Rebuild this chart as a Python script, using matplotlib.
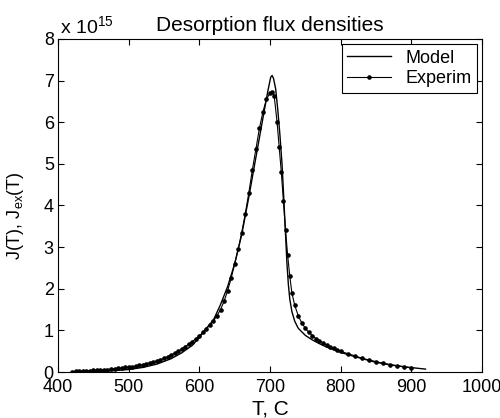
import matplotlib
matplotlib.use("Agg")
import matplotlib.pyplot as plt

plt.rcParams['font.family'] = ['Liberation Sans', 'DejaVu Sans']
plt.rcParams['mathtext.fontset'] = 'custom'
plt.rcParams['mathtext.rm'] = 'Liberation Sans'
plt.rcParams['mathtext.it'] = 'Liberation Sans'

# Model curve (T in C, J in 1e15 units)
model_T = [430, 450, 475, 500, 520, 540, 560, 575, 590, 600, 610, 620, 630, 640, 650,
           660, 670, 680, 690, 697, 701, 703, 705, 708, 711, 714, 717, 720, 722, 724,
           726, 728, 731, 735, 740, 750, 760, 770, 780, 800, 820, 846, 870, 898, 920]
model_J = [0.0, 0.01, 0.03, 0.06, 0.11, 0.19, 0.32, 0.46, 0.64, 0.83, 1.05, 1.25, 1.62, 2.05, 2.6,
           3.3, 4.2, 5.15, 6.1, 6.75, 7.08, 7.12, 7.05, 6.8, 6.3, 5.7, 5.0, 4.0, 3.3, 2.6,
           2.1, 1.75, 1.45, 1.22, 1.05, 0.88, 0.77, 0.68, 0.60, 0.47, 0.37, 0.25, 0.17, 0.11, 0.07]

# Experimental curve
exp_T = [420, 425, 430, 435, 440, 445, 450, 455, 460, 465, 470, 475, 480, 485, 490, 495,
         500, 505, 510, 515, 520, 525, 530, 535, 540, 545, 550, 555, 560, 565, 570, 575,
         580, 585, 590, 595, 600, 605, 610, 615, 620, 625, 630, 635, 640, 645, 650, 655,
         660, 665, 670, 675, 680, 685, 690, 695, 700, 703, 706, 710, 713, 716, 719, 722,
         725, 728, 731, 735, 740, 745, 750, 755, 760, 765, 770, 775, 780, 785, 790, 795,
         800, 810, 820, 830, 840, 850, 860, 870, 880, 890, 900]
exp_J = [0.01, 0.015, 0.02, 0.025, 0.03, 0.035, 0.04, 0.045, 0.05, 0.055, 0.06, 0.07, 0.08, 0.09, 0.10, 0.11,
         0.12, 0.13, 0.14, 0.16, 0.18, 0.20, 0.22, 0.24, 0.27, 0.30, 0.33, 0.37, 0.41, 0.45, 0.50, 0.55,
         0.61, 0.67, 0.73, 0.80, 0.87, 0.95, 1.04, 1.13, 1.23, 1.35, 1.50, 1.70, 1.95, 2.25, 2.60, 2.95,
         3.35, 3.80, 4.30, 4.85, 5.35, 5.85, 6.25, 6.55, 6.70, 6.73, 6.62, 6.0, 5.4, 4.8, 4.1, 3.4,
         2.8, 2.3, 1.9, 1.6, 1.35, 1.18, 1.05, 0.95, 0.87, 0.80, 0.75, 0.70, 0.65, 0.61, 0.57, 0.53,
         0.50, 0.44, 0.39, 0.33, 0.29, 0.25, 0.21, 0.18, 0.15, 0.12, 0.10]

x_ticks = [400, 500, 600, 700, 800, 900, 1000]
y_ticks = [0, 1, 2, 3, 4, 5, 6, 7, 8]

fig = plt.figure(figsize=(5.0, 4.18), dpi=100)
ax = fig.add_axes([0.116, 0.110, 0.848, 0.797])

ax.plot(model_T, model_J, color='black', lw=1.0, label='Model')
ax.plot(exp_T, exp_J, color='black', lw=0.8, marker='o', ms=2.3, label='Experim')

ax.set_xlim(400, 1000)
ax.set_ylim(0, 8)
ax.set_xticks(x_ticks)
ax.set_yticks(y_ticks)
ax.tick_params(direction='in', top=True, right=True, length=4, width=0.8,
               labelsize=13)
ax.tick_params(axis='x', pad=5)
ax.tick_params(axis='y', pad=3)
for s in ax.spines.values():
    s.set_linewidth(0.8)

ax.set_title('Desorption flux densities', fontsize=15, pad=6)
ax.set_xlabel('T, C', fontsize=15, labelpad=0)
ax.set_ylabel('J(T), J$_{\\mathrm{ex}}$(T)', fontsize=13)
ax.yaxis.set_label_coords(-0.075, 0.47)
ax.xaxis.set_label_coords(0.5, -0.083)
ax.text(0.005, 1.005, 'x 10$^{15}$', transform=ax.transAxes, fontsize=14,
        ha='left', va='bottom')

leg = ax.legend(loc='upper right', fontsize=13, frameon=True, fancybox=False,
                edgecolor='black', framealpha=1, borderpad=0.3, labelspacing=0.2,
                handlelength=2.4, handletextpad=0.8, borderaxespad=0.3)
leg.get_frame().set_linewidth(0.8)

fig.savefig('out.png', dpi=100)
